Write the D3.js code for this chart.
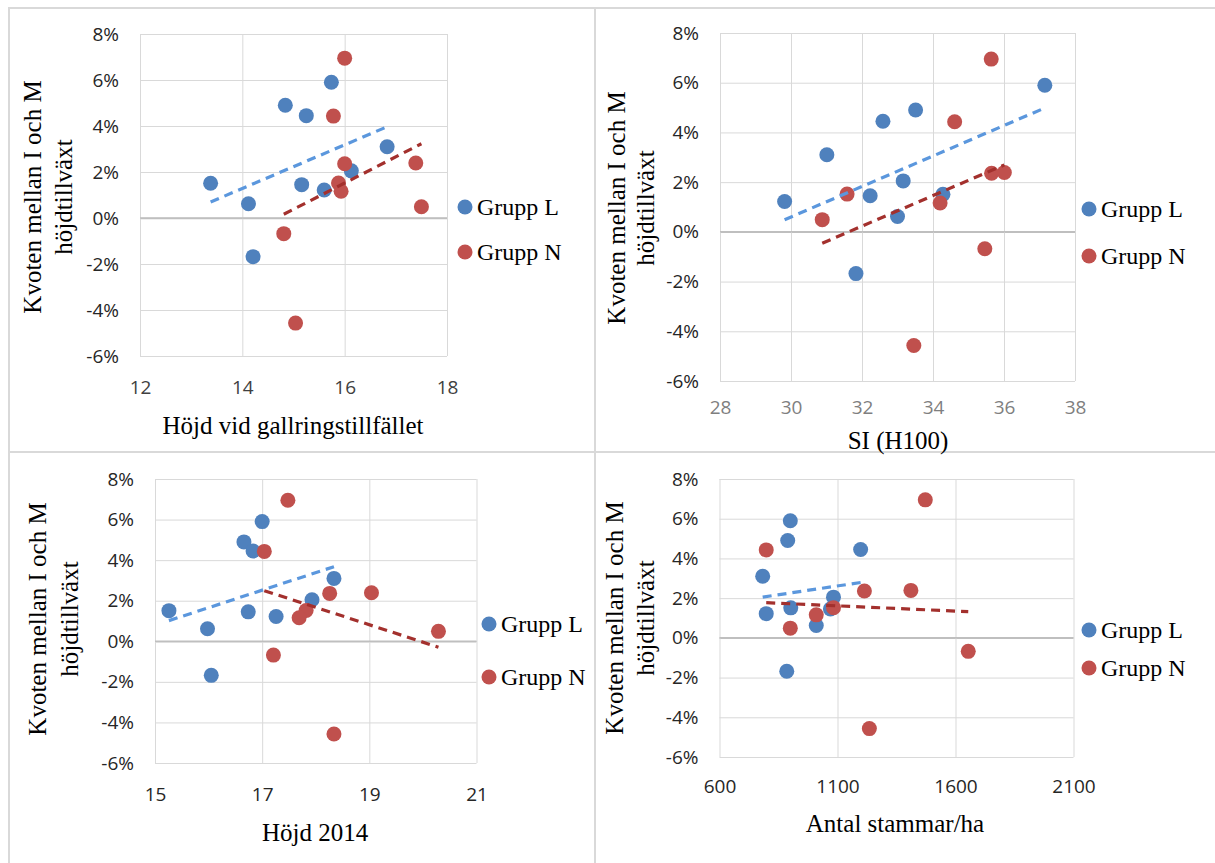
<!DOCTYPE html>
<html>
<head>
<meta charset="utf-8">
<script src="https://cdn.jsdelivr.net/npm/d3@7"></script>
<style>
  body { margin: 0; background: #fff; }
  svg { display: block; }
  .tick text { font-family: "Open Sans", "Liberation Sans", sans-serif; }
  .title { font-family: "Liberation Serif", "Times New Roman", serif; fill: #000; }
</style>
</head>
<body>
<svg id="vis" width="1215" height="863"></svg>
<script>
// y-värde: kvoten mellan I och M höjdtillväxt (%)
const kvotL = [5.90, 4.90, 4.45, 3.10, 2.05, 1.51, 1.45, 1.22, 0.62, -1.68];
const kvotN = [6.95, 4.43, 2.39, 2.36, 1.52, 1.16, 0.49, -0.68, -4.57];

// x-värden, samma ordning som ovan
const hojdGallL = [15.74, 14.84, 15.25, 16.83, 16.13, 13.38, 15.16, 15.60, 14.12, 14.21];
const hojdGallN = [16.00, 15.78, 17.39, 16.00, 15.88, 15.93, 17.50, 14.81, 15.04];

const siL = [37.15, 33.51, 32.59, 31.01, 33.16, 34.28, 32.23, 29.82, 33.00, 31.83];
const siN = [35.64, 34.61, 36.01, 35.65, 31.58, 34.20, 30.88, 35.46, 33.46];

const hojd2014L = [17.00, 16.66, 16.83, 18.34, 17.93, 15.26, 16.74, 17.26, 15.98, 16.05];
const hojd2014N = [17.48, 17.04, 19.04, 18.26, 17.82, 17.69, 20.29, 17.21, 18.34];

const stamL = [900, 889, 1198, 783, 1083, 902, 1070, 798, 1010, 885];
const stamN = [1472, 798, 1411, 1214, 1083, 1010, 900, 1654, 1235];

const yTicks = [-6, -4, -2, 0, 2, 4, 6, 8];
const groups = ["Grupp L", "Grupp N"];
const yTitle = ["Kvoten mellan I och M", "höjdtillväxt"];

const colors = {
    dotL: "#4f81bd",
    dotN: "#c0504d",
    trendL: "#5b97dd",
    trendN: "#a3302d",
    grid: "#d9d9d9",
    zero: "#bfbfbf",
    frame: "#d9d9d9"
};

const panels = [
    { xL: hojdGallL, xN: hojdGallN, dom: [12, 18], ticks: [12, 14, 16, 18],
      title: "Höjd vid gallringstillfället",
      px: [140, 447], py: [356, 34], tx: 293, ty: 425, pad: 25,
      yt: [32.5, 63], ytc: 197, lg: [465, 207, 252], tickCol: "#404040" },
    { xL: siL, xN: siN, dom: [28, 38], ticks: [28, 30, 32, 34, 36, 38],
      title: "SI (H100)",
      px: [720, 1075], py: [381, 33], tx: 898, ty: 440, pad: 20,
      yt: [616, 645], ytc: 208, lg: [1089, 209, 256], tickCol: "#7f7f7f" },
    { xL: hojd2014L, xN: hojd2014N, dom: [15, 21], ticks: [15, 17, 19, 21],
      title: "Höjd 2014",
      px: [155, 476.5], py: [763, 479], tx: 315, ty: 832, pad: 25,
      yt: [37, 69], ytc: 619, lg: [489, 624, 677], tickCol: "#262626" },
    { xL: stamL, xN: stamN, dom: [600, 2100], ticks: [600, 1100, 1600, 2100],
      title: "Antal stammar/ha",
      px: [719.5, 1073.5], py: [757, 479], tx: 895, ty: 823, pad: 23,
      yt: [614, 645], ytc: 618, lg: [1089, 630, 668], tickCol: "#262626" }
];

function linreg(xs, ys) {
    const mx = d3.mean(xs), my = d3.mean(ys);
    const sxy = d3.sum(xs, (x, i) => (x - mx) * (ys[i] - my));
    const sxx = d3.sum(xs, x => (x - mx) * (x - mx));
    const b = sxy / sxx;
    return x => my + b * (x - mx);
}

const svg = d3.select("svg#vis");

svg.append("rect").attr("width", 1215).attr("height", 863).attr("fill", "#fff");

// ramar runt diagrammen
const frame = svg.append("g")
    .attr("stroke", colors.frame)
    .attr("stroke-width", 2);
frame.append("line").attr("x1", 8).attr("x2", 1215).attr("y1", 8).attr("y2", 8);
frame.append("line").attr("x1", 8).attr("x2", 1215).attr("y1", 452).attr("y2", 452);
frame.append("line").attr("x1", 9).attr("x2", 9).attr("y1", 8).attr("y2", 863);
frame.append("line").attr("x1", 595).attr("x2", 595).attr("y1", 8).attr("y2", 863);

panels.forEach(p => {

    const x = d3.scaleLinear().domain(p.dom).range(p.px);
    const y = d3.scaleLinear().domain([-6, 8]).range(p.py);
    const w = p.px[1] - p.px[0];
    const h = p.py[0] - p.py[1];

    const g = svg.append("g");

    // y-axel + horisontella stödlinjer
    const ya = g.append("g")
        .attr("transform", `translate(${p.px[0]},0)`)
        .call(d3.axisLeft(y).tickValues(yTicks).tickSize(-w).tickPadding(21)
            .tickFormat(d => d + "%"));
    ya.select(".domain").remove();
    ya.selectAll(".tick line")
        .attr("stroke", d => d === 0 ? colors.zero : colors.grid)
        .attr("stroke-width", d => d === 0 ? 1.5 : 1);
    ya.selectAll(".tick text")
        .attr("font-size", 19).attr("fill", "#262626");

    // x-axel + vertikala stödlinjer
    const xa = g.append("g")
        .attr("transform", `translate(0,${p.py[0]})`)
        .call(d3.axisBottom(x).tickValues(p.ticks).tickSize(-h).tickPadding(p.pad)
            .tickFormat(d3.format("d")));
    xa.select(".domain").remove();
    xa.selectAll(".tick line").attr("stroke", colors.grid);
    xa.selectAll(".tick text")
        .attr("font-size", 19).attr("fill", p.tickCol);

    // zero-linjen ovanpå vertikala linjer
    g.append("line")
        .attr("x1", p.px[0]).attr("x2", p.px[1])
        .attr("y1", y(0)).attr("y2", y(0))
        .attr("stroke", colors.zero).attr("stroke-width", 1.5);

    // axeltitlar
    g.append("text").attr("class", "title")
        .attr("x", p.tx).attr("y", p.ty).attr("dy", "0.35em")
        .attr("text-anchor", "middle").attr("font-size", 25)
        .text(p.title);

    yTitle.forEach((t, i) => {
        g.append("text").attr("class", "title")
            .attr("transform", `translate(${p.yt[i]},${p.ytc}) rotate(-90)`)
            .attr("dy", "0.35em")
            .attr("text-anchor", "middle").attr("font-size", 25)
            .text(t);
    });

    // punkter
    const series = [
        { xs: p.xL, ys: kvotL, dot: colors.dotL, trend: colors.trendL },
        { xs: p.xN, ys: kvotN, dot: colors.dotN, trend: colors.trendN }
    ];

    series.forEach(s => {
        g.append("g")
            .selectAll("circle")
            .data(s.xs)
            .join("circle")
            .attr("cx", d => x(d))
            .attr("cy", (d, i) => y(s.ys[i]))
            .attr("r", 7.5)
            .attr("fill", s.dot);
    });

    // linjära trendlinjer
    series.forEach(s => {
        const f = linreg(s.xs, s.ys);
        const ext = d3.extent(s.xs);
        g.append("line")
            .attr("x1", x(ext[0])).attr("y1", y(f(ext[0])))
            .attr("x2", x(ext[1])).attr("y2", y(f(ext[1])))
            .attr("stroke", s.trend)
            .attr("stroke-width", 3.2)
            .attr("stroke-dasharray", "9,6");
    });

    // förklaring
    groups.forEach((name, i) => {
        const lx = p.lg[0], ly = p.lg[1 + i];
        g.append("circle")
            .attr("cx", lx).attr("cy", ly).attr("r", 7.5)
            .attr("fill", i === 0 ? colors.dotL : colors.dotN);
        g.append("text").attr("class", "title")
            .attr("x", lx + 12).attr("y", ly).attr("dy", "0.35em")
            .attr("font-size", 24)
            .text(name);
    });

});
</script>
</body>
</html>
